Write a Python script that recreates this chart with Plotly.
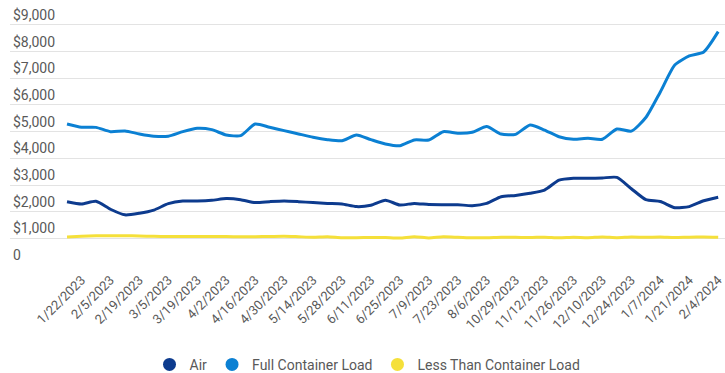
import plotly.graph_objects as go

# weekly dates (no data between mid-Aug and late Oct 2023)
dates = [
    "1/15/2023", "1/22/2023", "1/29/2023", "2/5/2023", "2/12/2023", "2/19/2023",
    "2/26/2023", "3/5/2023", "3/12/2023", "3/19/2023", "3/26/2023", "4/2/2023",
    "4/9/2023", "4/16/2023", "4/23/2023", "4/30/2023", "5/7/2023", "5/14/2023",
    "5/21/2023", "5/28/2023", "6/4/2023", "6/11/2023", "6/18/2023", "6/25/2023",
    "7/2/2023", "7/9/2023", "7/16/2023", "7/23/2023", "7/30/2023", "8/6/2023",
    "10/22/2023", "10/29/2023", "11/5/2023", "11/12/2023", "11/19/2023", "11/26/2023",
    "12/3/2023", "12/10/2023", "12/17/2023", "12/24/2023", "12/31/2023", "1/7/2024",
    "1/14/2024", "1/21/2024", "1/28/2024", "2/4/2024",
]

air = [
    2375, 2290, 2390, 2090, 1880, 1940, 2060, 2300, 2400, 2400,
    2425, 2490, 2450, 2340, 2375, 2400, 2375, 2340, 2310, 2290,
    2190, 2240, 2430, 2250, 2310, 2265, 2260, 2260, 2225, 2310,
    2560, 2610, 2690, 2810, 3180, 3250, 3250, 3265, 3285, 2860,
    2450, 2380, 2150, 2190, 2410, 2540,
]

fcl = [
    5290, 5165, 5160, 5000, 5025, 4915, 4830, 4830, 5000, 5125,
    5075, 4875, 4850, 5285, 5165, 5040, 4915, 4790, 4700, 4660,
    4875, 4700, 4540, 4470, 4690, 4690, 5000, 4940, 4975, 5190,
    4910, 4900, 5250, 5060, 4810, 4715, 4750, 4715, 5100, 5020,
    5530, 6490, 7500, 7840, 7990, 8750,
]

lcl = [
    1050, 1075, 1095, 1100, 1100, 1085, 1075, 1070, 1070, 1070,
    1070, 1065, 1060, 1060, 1070, 1080, 1060, 1040, 1060, 1020,
    1025, 1035, 1030, 1010, 1060, 1015, 1055, 1040, 1020, 1020,
    1040, 1040, 1030, 1045, 1020, 1040, 1025, 1050, 1025, 1050,
    1040, 1050, 1030, 1045, 1050, 1040,
]

y_ticks = [0, 1000, 2000, 3000, 4000, 5000, 6000, 7000, 8000, 9000]
y_labels = ["0", "$1,000", "$2,000", "$3,000", "$4,000", "$5,000",
            "$6,000", "$7,000", "$8,000", "$9,000"]

series = [
    ("Air", air, "#0d3b8e"),
    ("Full Container Load", fcl, "#0b80d3"),
    ("Less Than Container Load", lcl, "#f5e03a"),
]

fig = go.Figure()
for name, vals, color in series:
    fig.add_trace(go.Scatter(
        x=dates, y=vals, name=name, mode="lines", showlegend=False,
        line=dict(color=color, width=3, shape="spline", smoothing=0.6),
    ))
    # legend entry with a round swatch
    fig.add_trace(go.Scatter(
        x=[None], y=[None], name=name, mode="markers",
        marker=dict(color=color, size=13, symbol="circle"),
    ))

# label every other week
x_ticks = dates[1::2]

fig.update_layout(
    width=725, height=373,
    margin=dict(l=10, r=0, t=0, b=108),
    plot_bgcolor="white", paper_bgcolor="white",
    font=dict(family="Roboto", color="#595959"),
    legend=dict(
        orientation="h", x=0.5, xanchor="center",
        yref="container", y=0.022, yanchor="middle",
        font=dict(size=14, color="#595959"), itemwidth=30,
    ),
    xaxis=dict(
        type="category", range=[-3.94, 45.47], automargin=False,
        tickmode="array", tickvals=x_ticks, ticktext=x_ticks,
        tickangle=-45, tickfont=dict(size=13, color="#595959"),
        ticklabelstandoff=4,
        showgrid=False, showline=False, zeroline=False,
    ),
    yaxis=dict(
        range=[0, 9937], automargin=False,
        tickmode="array", tickvals=y_ticks, ticktext=y_labels,
        ticklabelposition="inside top", tickfont=dict(size=14, color="#595959"),
        showgrid=True, gridcolor="#e3e3e3", gridwidth=1, zeroline=False,
    ),
)

fig.write_html(
    "out.html",
    config={"displayModeBar": False},
    post_script="document.body.style.margin='0px';",
)
